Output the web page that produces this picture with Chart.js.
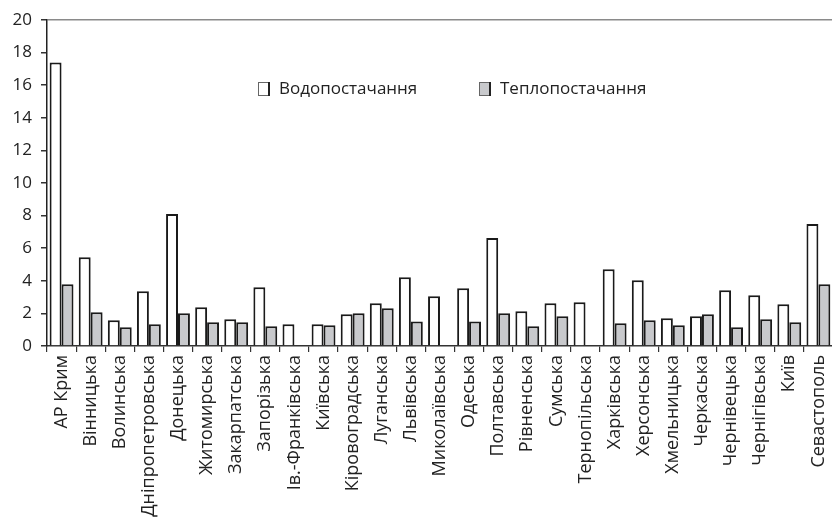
<!DOCTYPE html>
<html>
<head>
<meta charset="utf-8">
<script src="https://cdn.jsdelivr.net/npm/chart.js@4/dist/chart.umd.min.js"></script>
<style>
html,body{margin:0;padding:0;background:#fff;overflow:hidden;width:832px;height:521px;}
canvas{display:block;}
</style>
</head>
<body>
<canvas id="c" width="843" height="521"></canvas>
<script>
const categories = ["АР Крим","Вінницька","Волинська","Дніпропетровська","Донецька","Житомирська","Закарпатська","Запорізька","Ів.-Франківська","Київська","Кіровоградська","Луганська","Львівська","Миколаївська","Одеська","Полтавська","Рівненська","Сумська","Тернопільська","Харківська","Херсонська","Хмельницька","Черкаська","Чернівецька","Чернігівська","Київ","Севастополь"];
const waterSupply = [17.4,5.45,1.58,3.36,8.1,2.38,1.64,3.61,1.33,1.33,1.95,2.62,4.22,3.05,3.54,6.62,2.13,2.62,2.68,4.71,4.04,1.70,1.82,3.42,3.11,2.56,7.48];
const heatSupply = [3.79,2.07,1.15,1.33,2.01,1.46,1.46,1.21,0,1.27,2.01,2.32,1.50,0,1.50,2.01,1.21,1.82,0,1.39,1.58,1.27,1.95,1.15,1.64,1.46,3.79];
const seriesNames = ["Водопостачання","Теплопостачання"];
const yTicks = [0,2,4,6,8,10,12,14,16,18,20];

const FONT = "'Open Sans', 'DejaVu Sans', sans-serif";

const insideLegend = {
  id: 'insideLegend',
  afterDraw(chart) {
    const ctx = chart.ctx;
    const area = chart.chartArea;
    const offsets = [211, 432];
    const y = area.top + 68;
    ctx.save();
    chart.data.datasets.forEach((ds, i) => {
      const x = area.left + offsets[i];
      ctx.fillStyle = ds.backgroundColor;
      ctx.fillRect(x, y - 6, 12, 14);
      ctx.strokeStyle = '#666';
      ctx.lineWidth = 1;
      ctx.strokeRect(x + 0.5, y - 5.5, 11, 13);
      ctx.fillStyle = '#222';
      ctx.fillRect(x + 10, y - 6, 2, 14);
      ctx.font = "17px " + FONT;
      ctx.fillStyle = '#222';
      ctx.textBaseline = 'middle';
      ctx.textAlign = 'left';
      ctx.fillText(ds.label, x + 21, y + 1);
    });
    ctx.restore();
  }
};

new Chart(document.getElementById('c'), {
  type: 'bar',
  data: {
    labels: categories,
    datasets: [
      {label: seriesNames[0], data: waterSupply, backgroundColor: '#ffffff', borderColor: '#1a1a1a', borderWidth: 2, borderSkipped: 'bottom'},
      {label: seriesNames[1], data: heatSupply, backgroundColor: '#c8c9cc', borderColor: '#1a1a1a', borderWidth: 2, borderSkipped: 'bottom'}
    ]
  },
  options: {
    responsive: false,
    animation: false,
    devicePixelRatio: 1,
    layout: {padding: {top: 20, right: 0, left: 0, bottom: 0}},
    datasets: {bar: {categoryPercentage: 0.82, barPercentage: 1.0}},
    plugins: {legend: {display: false}, tooltip: {enabled: false}},
    scales: {
      x: {
        offset: true,
        grid: {offset: true, drawOnChartArea: false, tickLength: 6, tickColor: '#333', lineWidth: 1.2},
        border: {color: '#333', width: 1.5},
        ticks: {minRotation: 90, maxRotation: 90, autoSkip: false, padding: 3, color: '#222', font: {family: FONT, size: 18}},
        afterFit(scale) { scale.height = 175; }
      },
      y: {
        min: 0, max: 20,
        afterBuildTicks(scale) { scale.ticks = yTicks.map(v => ({value: v})); },
        grid: {
          color: (c) => (c.tick && c.tick.value === 20) ? '#8a8a8a' : 'rgba(0,0,0,0)',
          lineWidth: 1.5,
          tickLength: 6, tickColor: '#333'
        },
        border: {color: '#222', width: 1.5},
        ticks: {padding: 9, color: '#222', font: {family: FONT, size: 17}},
        afterFit(scale) { scale.width = 47; }
      }
    }
  },
  plugins: [insideLegend]
});
</script>
</body>
</html>
